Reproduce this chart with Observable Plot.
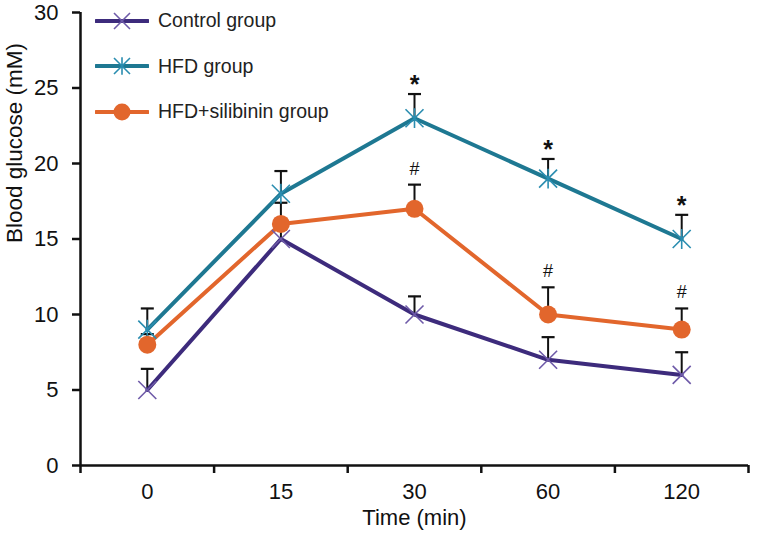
<!DOCTYPE html>
<html>
<head>
<meta charset="utf-8">
<script src="https://cdn.jsdelivr.net/npm/d3@7"></script>
<script src="https://cdn.jsdelivr.net/npm/@observablehq/plot@0.6"></script>
<style>
  html, body { margin: 0; padding: 0; background: #fff; }
  #wrap { position: relative; width: 762px; height: 536px; font-family: "Liberation Sans", Arial, sans-serif; }
  #legend { position: absolute; left: 95px; top: -2px; }
  .row { display: flex; align-items: center; height: 45.5px; font-size: 19.5px; color: #222; }
  .row svg { margin-right: 9px; }
</style>
</head>
<body>
<div id="wrap"><div id="legend"></div></div>
<script>
// ---- data ----
const times = ["0", "15", "30", "60", "120"];
const seriesNames = ["Control group", "HFD group", "HFD+silibinin group"];
const controlMean = [5, 15, 10, 7, 6];
const controlUpper = [6.4, 15.7, 11.2, 8.5, 7.5];
const hfdMean = [9, 18, 23, 19, 15];
const hfdUpper = [10.4, 19.5, 24.6, 20.3, 16.6];
const silMean = [8, 16, 17, 10, 9];
const silUpper = [8.7, 17.4, 18.6, 11.8, 10.4];
const hfdSig = ["", "", "*", "*", "*"];
const silSig = ["", "", "#", "#", "#"];
const yTicks = [0, 5, 10, 15, 20, 25, 30];

const lineColors = ["#3d2b7c", "#1e7892", "#e2662c"];
const markColors = ["#6e5aa8", "#2a8db0", "#e2662c"];

function rowsFor(name, mean, upper, sig) {
  return times.map((t, i) => ({series: name, i, t, mean: mean[i], upper: upper[i], sig: sig ? sig[i] : ""}));
}
const control = rowsFor(seriesNames[0], controlMean, controlUpper, null);
const hfd = rowsFor(seriesNames[1], hfdMean, hfdUpper, hfdSig);
const sil = rowsFor(seriesNames[2], silMean, silUpper, silSig);
const all = [...control, ...hfd, ...sil];

// ---- custom symbols ----
const crossSym = {draw(c) { const a = 9; c.moveTo(-a, -a); c.lineTo(a, a); c.moveTo(-a, a); c.lineTo(a, -a); }};
const starSym = {draw(c) { const a = 9; c.moveTo(-a, -a); c.lineTo(a, a); c.moveTo(-a, a); c.lineTo(a, -a); c.moveTo(0, -a * 1.1); c.lineTo(0, a * 1.1); }};
const capSym = {draw(c) { c.moveTo(-6.5, 0); c.lineTo(6.5, 0); }};

const chart = Plot.plot({
  width: 762, height: 536,
  marginLeft: 80, marginRight: 14, marginTop: 12, marginBottom: 71,
  style: {fontFamily: "'Liberation Sans', Arial, sans-serif", fontSize: "22px", background: "#fff", color: "#111"},
  x: {type: "linear", domain: [-0.5, 4.5], axis: null},
  y: {domain: [0, 30], axis: null},
  color: {domain: seriesNames, range: lineColors},
  marks: [
    Plot.axisY({ticks: yTicks, tickSize: 8, tickPadding: 14, strokeWidth: 2.5, label: null}),
    Plot.axisX({ticks: d3.range(-0.5, 5, 1), tickSize: 8, strokeWidth: 2.5, tickFormat: () => "", label: null}),
    Plot.axisX({ticks: d3.range(0, 5), tickSize: 0, tickPadding: 18, tickFormat: i => times[i], label: null}),
    Plot.ruleY([0], {stroke: "#111", strokeWidth: 2.5}),
    Plot.ruleX([-0.5], {stroke: "#111", strokeWidth: 2.5}),
    Plot.text(["Blood glucose (mM)"], {frameAnchor: "left", rotate: -90, dx: -66, dy: 4, fontSize: 22.5, fill: "#111"}),
    Plot.text(["Time (min)"], {frameAnchor: "bottom", dy: 59, fontSize: 22, fill: "#111"}),
    // error bars
    Plot.ruleX(all, {x: "i", y1: "mean", y2: "upper", stroke: "#111", strokeWidth: 2}),
    Plot.dot(all, {x: "i", y: "upper", symbol: capSym, stroke: "#111", strokeWidth: 2.2, fill: "none"}),
    // lines
    Plot.line(all, {x: "i", y: "mean", z: "series", stroke: "series", strokeWidth: 4}),
    // markers
    Plot.dot(control, {x: "i", y: "mean", symbol: crossSym, stroke: markColors[0], strokeWidth: 1.6}),
    Plot.dot(hfd, {x: "i", y: "mean", symbol: starSym, stroke: markColors[1], strokeWidth: 1.6}),
    Plot.dot(sil, {x: "i", y: "mean", r: 9, fill: markColors[2], stroke: "none"}),
    // significance marks
    Plot.text(hfd.filter(d => d.sig), {x: "i", y: "upper", text: "sig", dy: -1, fontSize: 25, fontWeight: "bold", lineAnchor: "bottom", fill: "#111"}),
    Plot.text(sil.filter(d => d.sig), {x: "i", y: "upper", text: "sig", dy: -10, fontSize: 18, lineAnchor: "bottom", fill: "#111"})
  ]
});
document.getElementById("wrap").prepend(chart);
chart.style.display = "block";

// ---- legend ----
const legend = d3.select("#legend");
const legendSyms = ["cross", "star", "circle"];
seriesNames.forEach((name, k) => {
  const row = legend.append("div").attr("class", "row");
  const s = row.append("svg").attr("width", 54).attr("height", 24);
  s.append("line").attr("x1", 1).attr("x2", 53).attr("y1", 12).attr("y2", 12)
    .attr("stroke", lineColors[k]).attr("stroke-width", 4).attr("stroke-linecap", "round");
  const g = s.append("g").attr("transform", "translate(27,12)");
  if (legendSyms[k] === "circle") {
    g.append("circle").attr("r", 8.5).attr("fill", markColors[k]);
  } else {
    const a = 8;
    const p = d3.path();
    p.moveTo(-a, -a); p.lineTo(a, a); p.moveTo(-a, a); p.lineTo(a, -a);
    if (legendSyms[k] === "star") { p.moveTo(0, -a * 1.1); p.lineTo(0, a * 1.1); }
    g.append("path").attr("d", p.toString()).attr("stroke", markColors[k]).attr("stroke-width", 1.6).attr("fill", "none");
  }
  row.append("span").text(name);
});
</script>
</body>
</html>
